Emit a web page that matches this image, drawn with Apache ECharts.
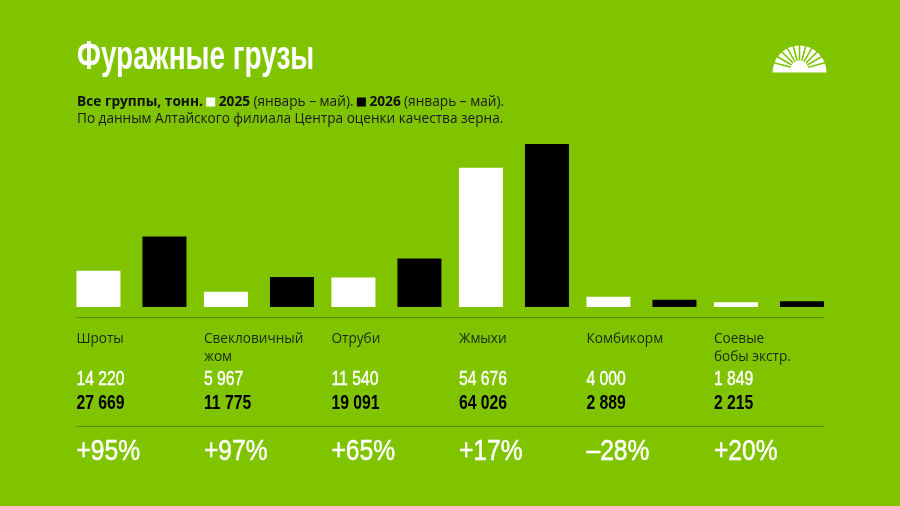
<!DOCTYPE html>
<html><head><meta charset="utf-8">
<script src="https://cdn.jsdelivr.net/npm/echarts@6/dist/echarts.min.js"></script>
<style>html,body{margin:0;padding:0;background:#80c400}#c{width:900px;height:506px}</style>
</head><body><div id="c"></div>
<script>
const categories = ['Шроты', 'Свекловичный\nжом', 'Отруби', 'Жмыхи', 'Комбикорм', 'Соевые\nбобы экстр.'];
const values2025 = [14220, 5967, 11540, 54676, 4000, 1849];
const values2026 = [27669, 11775, 19091, 64026, 2889, 2215];
const changes = ['+95%', '+97%', '+65%', '+17%', '–28%', '+20%'];
const titleText = 'Фуражные грузы';
const sourceText = 'По данным Алтайского филиала Центра оценки качества зерна.';

const BG = '#80c400';
const COND = '"Liberation Sans", Arial, sans-serif';
const SANS = '"Open Sans", "Noto Sans", sans-serif';
const fmt = v => String(v).replace(/\B(?=(\d{3})+(?!\d))/g, ' ');

const chart = echarts.init(document.getElementById('c'));
const BW = 44;
chart.setOption({
  backgroundColor: BG,
  animation: false,
  grid: { left: 67.7, width: 765, top: 128.8, height: 178.2 },
  xAxis: { type: 'category', data: categories, show: false },
  yAxis: { type: 'value', min: 0, max: 70000, show: false },
  series: [
    { type: 'bar', name: '2025', data: values2025, barWidth: BW, barGap: '50%', itemStyle: { color: '#ffffff' } },
    { type: 'bar', name: '2026', data: values2026, barWidth: BW, itemStyle: { color: '#000000' } }
  ]
});

const g = [];
const lefts = categories.map((c, i) => chart.convertToPixel({ xAxisIndex: 0 }, i) - BW * 1.25);
const rightEnd = chart.convertToPixel({ xAxisIndex: 0 }, categories.length - 1) + BW * 1.25;

function condText(text, x, y, font, fill, sx, sw) {
  const st = { text: text, x: 0, y: 0, fill: fill, font: font, verticalAlign: 'middle' };
  if (sw) { st.stroke = fill; st.lineWidth = sw; }
  return { type: 'text', x: x, y: y, scaleX: sx, style: st };
}

g.push(condText(titleText, 77, 58, 'bold 40px ' + COND, '#fff', 0.70));
g.push({ type: 'text', style: {
  text: '{b|Все группы, тонн.} {sw| }{b| 2025} {r|(январь – май).} {sb| }{b| 2026} {r|(январь – май).}',
  x: 77, y: 102, verticalAlign: 'middle', fill: '#111',
  rich: {
    b: { font: 'bold 13.7px ' + SANS, fill: '#111' },
    r: { font: '13.7px ' + SANS, fill: '#1a1a1a' },
    sw: { width: 9, height: 9, backgroundColor: '#fff', font: '13.7px ' + SANS },
    sb: { width: 9, height: 9, backgroundColor: '#000', font: '13.7px ' + SANS }
  }
} });
g.push({ type: 'text', style: { text: sourceText, x: 77, y: 119.5, fill: '#1a1a1a', font: '13.6px ' + SANS, verticalAlign: 'middle' } });

g.push({ type: 'line', shape: { x1: lefts[0], y1: 317.5, x2: rightEnd, y2: 317.5 }, style: { stroke: '#4f8a00', lineWidth: 1.2 } });
g.push({ type: 'line', shape: { x1: lefts[0], y1: 426.5, x2: rightEnd, y2: 426.5 }, style: { stroke: '#4f8a00', lineWidth: 1.2 } });

categories.forEach((c, i) => {
  const x = lefts[i];
  c.split('\n').forEach((ln, k) => {
    g.push({ type: 'text', style: { text: ln, x: x, y: 339.5 + k * 18, fill: '#1c2a0c', font: '13.6px ' + SANS, verticalAlign: 'middle' } });
  });
  g.push(condText(fmt(values2025[i]), x, 379, '21px ' + COND, '#fff', 0.75, 0.4));
  g.push(condText(fmt(values2026[i]), x, 403.5, 'bold 21px ' + COND, '#000', 0.75));
  g.push(condText(changes[i], x, 452, '30px ' + COND, '#fff', 0.82, 0.5));
});

// logo
const LX = 799.5, LY = 72.5, LR = 27;
g.push({ type: 'sector', shape: { cx: LX, cy: LY, r: LR, r0: 0, startAngle: Math.PI, endAngle: Math.PI * 2 }, style: { fill: '#fff' } });
for (let k = 1; k < 12; k++) {
  const a = Math.PI + k * Math.PI / 12;
  g.push({ type: 'line', shape: { x1: LX + 9 * Math.cos(a), y1: LY - 3 + 9 * Math.sin(a), x2: LX + (LR + 2) * Math.cos(a), y2: LY - 3 + (LR + 2) * Math.sin(a) }, style: { stroke: BG, lineWidth: 1.6 } });
}

chart.setOption({ graphic: g });
</script>
</body></html>
